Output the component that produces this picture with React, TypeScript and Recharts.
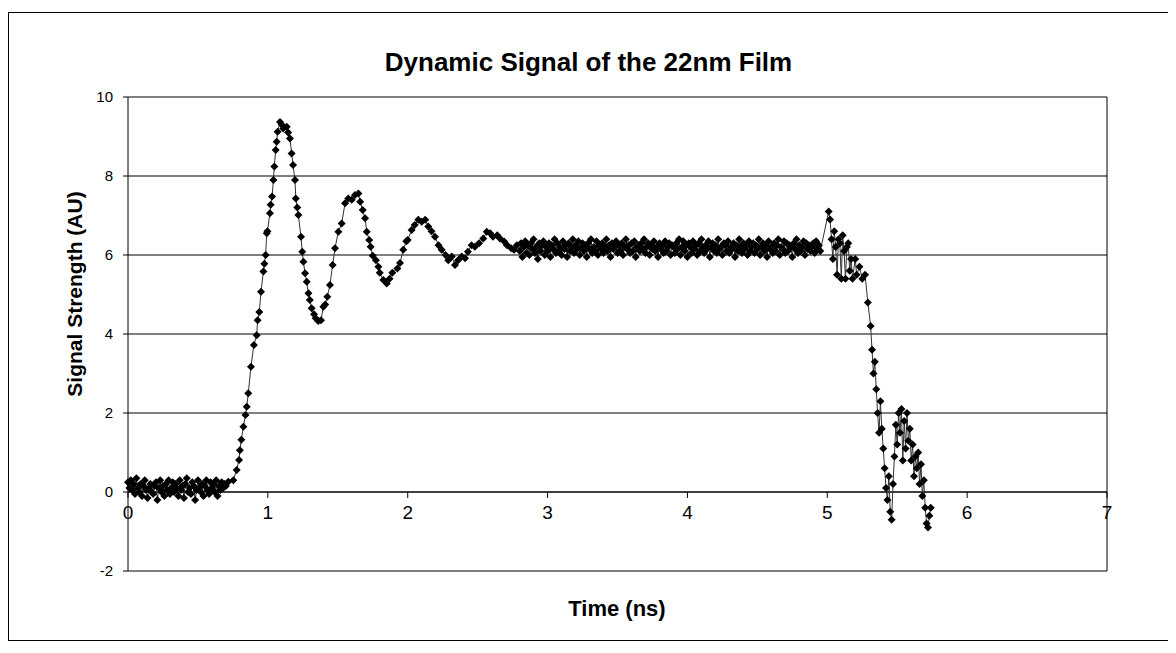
import React from 'react';
import {
  ScatterChart,
  Scatter,
  XAxis,
  YAxis,
  CartesianGrid,
  ReferenceLine,
} from 'recharts';

// sampling of the flat parts of the trace (ns)
const STEP = 0.01;

// 0 – 0.70 ns, noise before the pulse
const BASELINE_START = 0;
const baselineSignal = [
  0.25, 0.1, 0.3, 0.05, 0.2, -0.05, 0.35, 0.1, 0.0, 0.2, -0.1, 0.15, 0.3,
  0.05, -0.15, 0.1, 0.2, 0.0, -0.05, 0.15, 0.25, -0.2, 0.1, 0.3, 0.0, 0.15,
  -0.1, 0.2, 0.05, 0.3, -0.05, 0.1, 0.25, 0.0, 0.2, 0.1, -0.1, 0.3, 0.05,
  0.15, -0.15, 0.2, 0.35, 0.0, 0.1, -0.05, 0.25, 0.15, -0.2, 0.05, 0.3, 0.1,
  0.0, 0.2, -0.1, 0.15, 0.3, 0.05, -0.05, 0.25, 0.1, 0.2, 0.0, 0.3, -0.1,
  0.15, 0.05, 0.25, 0.1, 0.2, 0.15,
];

// rise, first peak and the ringing
const riseTimes = [
  0.717, 0.753, 0.777, 0.794, 0.8, 0.81, 0.825, 0.84, 0.849, 0.86, 0.879, 0.9,
  0.92, 0.927, 0.939, 0.951, 0.968, 0.975, 0.984, 0.992, 0.997, 1.015, 1.02,
  1.03, 1.04, 1.046, 1.056, 1.063, 1.07, 1.087, 1.1, 1.11, 1.135, 1.145, 1.158,
  1.17, 1.18, 1.194, 1.2, 1.21, 1.218, 1.237, 1.246, 1.254, 1.266, 1.278, 1.29,
  1.3, 1.313, 1.33, 1.342, 1.36, 1.38, 1.397, 1.41, 1.425, 1.444, 1.463, 1.48,
  1.504, 1.528, 1.552, 1.575, 1.6, 1.623, 1.647, 1.66, 1.678, 1.695, 1.707,
  1.725, 1.735, 1.75, 1.773, 1.79, 1.8, 1.826, 1.85, 1.87, 1.89, 1.926, 1.945,
  1.968, 1.99, 2.0, 2.028, 2.05, 2.076, 2.1, 2.125, 2.147, 2.17, 2.195, 2.22,
  2.243, 2.27, 2.29, 2.315, 2.338, 2.36, 2.386, 2.41, 2.43, 2.457, 2.48, 2.51,
  2.54, 2.565, 2.59, 2.61, 2.64, 2.66, 2.69, 2.71, 2.74, 2.76, 2.78,
];
const riseSignal = [
  0.26, 0.3, 0.56, 0.81, 1.06, 1.32, 1.65, 1.95, 2.16, 2.5, 3.17, 3.72, 3.97,
  4.35, 4.56, 5.07, 5.58, 5.78, 6.0, 6.55, 6.6, 7.06, 7.27, 7.48, 7.9, 8.24,
  8.66, 8.87, 9.12, 9.37, 9.3, 9.2, 9.25, 9.1, 8.95, 8.57, 8.28, 7.9, 7.43, 7.2,
  7.01, 6.46, 6.08, 5.83, 5.54, 5.32, 5.03, 4.86, 4.65, 4.5, 4.4, 4.33, 4.35,
  4.69, 4.75, 4.94, 5.24, 5.75, 6.17, 6.59, 6.8, 7.31, 7.43, 7.4, 7.52, 7.56,
  7.35, 7.14, 6.93, 6.59, 6.38, 6.21, 5.98, 5.87, 5.7, 5.55, 5.37, 5.28, 5.4,
  5.55, 5.66, 5.8, 6.13, 6.35, 6.38, 6.63, 6.76, 6.89, 6.84, 6.89, 6.72, 6.6,
  6.46, 6.25, 6.13, 6.0, 5.87, 5.96, 5.75, 5.87, 5.96, 5.92, 6.08, 6.25, 6.21,
  6.3, 6.42, 6.59, 6.55, 6.46, 6.5, 6.42, 6.34, 6.25, 6.17, 6.13, 6.25,
];

// 2.80 – 5.00 ns, steady level
const PLATEAU_START = 2.8;
const plateauSignal = [
  6.1, 6.3, 5.95, 6.2, 6.35, 6.05, 6.25, 6.0, 6.3, 6.15, 6.4, 6.05, 6.2, 5.9,
  6.3, 6.1, 6.25, 6.35, 6.0, 6.2, 6.1, 6.3, 5.95, 6.25, 6.15, 6.4, 6.05, 6.3,
  6.1, 6.2, 6.0, 6.35, 6.15, 6.25, 5.95, 6.3, 6.1, 6.2, 6.4, 6.05, 6.25, 6.15,
  6.35, 6.0, 6.2, 6.3, 6.1, 6.25, 5.95, 6.3, 6.15, 6.4, 6.05, 6.2, 6.1, 6.35,
  6.0, 6.25, 6.15, 6.3, 6.05, 6.2, 6.4, 6.1, 6.25, 5.95, 6.3, 6.15, 6.2, 6.35,
  6.05, 6.25, 6.1, 6.3, 6.0, 6.2, 6.4, 6.15, 6.25, 6.05, 6.3, 6.1, 6.35, 5.95,
  6.2, 6.25, 6.1, 6.3, 6.15, 6.4, 6.05, 6.2, 6.3, 6.0, 6.25, 6.15, 6.35, 6.1,
  6.2, 5.95, 6.3, 6.15, 6.25, 6.05, 6.35, 6.1, 6.2, 6.3, 6.0, 6.25, 6.2,
  6.05, 6.3, 6.15, 6.4, 6.0, 6.2, 6.35, 6.1, 6.25, 5.95, 6.3, 6.2, 6.05, 6.35,
  6.15, 6.25, 6.0, 6.3, 6.1, 6.4, 6.2, 6.05, 6.25, 6.15, 6.35, 5.95, 6.2, 6.3,
  6.1, 6.25, 6.05, 6.4, 6.15, 6.2, 6.0, 6.3, 6.25, 6.1, 6.35, 6.05, 6.2, 6.15,
  6.3, 5.95, 6.25, 6.1, 6.4, 6.2, 6.05, 6.3, 6.15, 6.25, 6.0, 6.35, 6.1, 6.2,
  6.3, 6.05, 6.25, 6.15, 6.4, 6.0, 6.2, 6.3, 6.1, 6.25, 5.95, 6.35, 6.15, 6.2,
  6.05, 6.3, 6.1, 6.25, 6.4, 6.0, 6.2, 6.15, 6.35, 6.05, 6.3, 6.1, 6.25, 6.2,
  5.95, 6.3, 6.15, 6.4, 6.05, 6.25, 6.1, 6.2, 6.35, 6.0, 6.3, 6.15, 6.25, 6.1,
  6.2, 6.3, 6.05, 6.35, 6.15, 6.25, 6.1,
];

// 5.0 ns onwards, the fall
const fallTimes = [
  5.01, 5.02, 5.03, 5.04, 5.05, 5.06, 5.07, 5.08, 5.09, 5.1, 5.11, 5.12, 5.13,
  5.14, 5.15, 5.16, 5.17, 5.18, 5.2, 5.21, 5.23, 5.25, 5.27, 5.29, 5.31, 5.32,
  5.33, 5.34, 5.35, 5.36, 5.37, 5.38, 5.39, 5.4, 5.41, 5.42, 5.43, 5.44, 5.45,
  5.46, 5.47, 5.48, 5.49, 5.5, 5.51, 5.52, 5.53, 5.54, 5.55, 5.56, 5.57, 5.58,
  5.59, 5.6, 5.61, 5.62, 5.63, 5.64, 5.65, 5.66, 5.67, 5.68, 5.69, 5.7, 5.71,
  5.72, 5.73, 5.74,
];
const fallSignal = [
  7.1, 6.9, 6.4, 5.9, 6.6, 6.2, 5.5, 6.4, 6.3, 5.4, 6.5, 6.1, 5.4, 6.2, 6.3,
  5.6, 5.9, 5.4, 5.9, 5.5, 5.7, 5.4, 5.5, 4.8, 4.2, 3.6, 3.0, 3.3, 2.6, 2.0,
  1.5, 2.3, 1.6, 1.1, 0.6, 0.1, -0.2, 0.4, -0.5, -0.7, 0.2, 0.9, 1.7, 1.2, 2.0,
  1.5, 2.1, 0.8, 1.8, 1.1, 2.0, 1.3, 1.6, 0.8, 1.2, 0.4, 0.9, 0.6, 1.0, 0.2,
  0.7, -0.1, 0.3, -0.4, -0.8, -0.9, -0.6, -0.4,
];

const xTicks = [0, 1, 2, 3, 4, 5, 6, 7];
const yTicks = [-2, 0, 2, 4, 6, 8, 10];

const data = [
  ...baselineSignal.map((v, i) => ({ t: BASELINE_START + i * STEP, v })),
  ...riseSignal.map((v, i) => ({ t: riseTimes[i], v })),
  ...plateauSignal.map((v, i) => ({ t: PLATEAU_START + i * STEP, v })),
  ...fallSignal.map((v, i) => ({ t: fallTimes[i], v })),
];

const FONT = 'Arial, "Liberation Sans", sans-serif';

// Excel style diamond marker
const Diamond = (props: any) => {
  const { cx, cy } = props;
  const r = 4;
  return (
    <path
      d={`M${cx},${cy - r}L${cx + r},${cy}L${cx},${cy + r}L${cx - r},${cy}Z`}
      fill="#000"
    />
  );
};

const App = () => {
  return (
    <div
      style={{
        position: 'relative',
        width: 1161,
        height: 629,
        marginTop: 4,
        border: '1px solid #000',
        boxSizing: 'border-box',
        background: '#fff',
        fontFamily: FONT,
      }}
    >
      <div
        style={{
          position: 'absolute',
          left: 0,
          width: 1159,
          top: 34,
          textAlign: 'center',
          fontWeight: 'bold',
          fontSize: 26,
        }}
      >
        Dynamic Signal of the 22nm Film
      </div>
      <div
        style={{
          position: 'absolute',
          left: 66 - 150,
          top: 281 - 12,
          width: 300,
          height: 24,
          lineHeight: '24px',
          textAlign: 'center',
          fontWeight: 'bold',
          fontSize: 21,
          transform: 'rotate(-90deg)',
        }}
      >
        Signal Strength (AU)
      </div>
      <div
        style={{
          position: 'absolute',
          left: 608 - 150,
          width: 300,
          top: 583,
          textAlign: 'center',
          fontWeight: 'bold',
          fontSize: 22,
        }}
      >
        Time (ns)
      </div>

      <ScatterChart
        width={1159}
        height={627}
        margin={{ top: 84, right: 61, left: 69, bottom: 69 }}
      >
        <CartesianGrid vertical={false} stroke="#000" />
        <XAxis type="number" dataKey="t" domain={[0, 7]} ticks={xTicks} hide />
        <YAxis
          type="number"
          dataKey="v"
          domain={[-2, 10]}
          ticks={yTicks}
          width={50}
          axisLine={{ stroke: '#000' }}
          tickLine={{ stroke: '#000' }}
          tickSize={5}
          tickMargin={10}
          tick={{ fill: '#000', fontSize: 15, fontFamily: FONT }}
        />
        <ReferenceLine y={0} stroke="#000" />
        <ReferenceLine x={7} stroke="#000" />
        {xTicks.map((k) => (
          <ReferenceLine
            key={k}
            segment={[
              { x: k, y: 0 },
              { x: k, y: -0.15 },
            ]}
            stroke="#000"
            ifOverflow="visible"
            label={{
              value: String(k),
              position: 'bottom',
              offset: 8,
              fill: '#000',
              fontSize: 19,
              fontFamily: '"Liberation Sans Narrow", Arial, sans-serif',
            }}
          />
        ))}
        <Scatter
          data={data}
          fill="#000"
          line={{ stroke: '#333', strokeWidth: 1 }}
          lineType="joint"
          shape={Diamond}
          isAnimationActive={false}
        />
      </ScatterChart>
    </div>
  );
};

export default App;
